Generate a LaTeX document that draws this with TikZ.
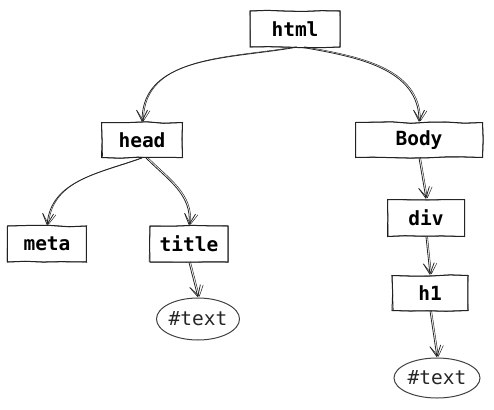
\documentclass[tikz,border=0pt]{standalone}
\usepackage{fontspec}
\setmonofont{DejaVu Sans Mono}
\usetikzlibrary{arrows.meta,shapes.geometric,decorations.pathmorphing}

\tikzset{
  sketch/.style={draw=black!90, line width=1pt,
    decorate, decoration={random steps, segment length=18pt, amplitude=0.8pt},
    postaction={draw=black!85, line width=0.6pt, decorate,
      decoration={random steps, segment length=25pt, amplitude=1pt}}},
  tagbox/.style={sketch, rectangle, inner sep=0pt,
    font=\ttfamily\bfseries\fontsize{19.5}{21}\selectfont},
  textnode/.style={draw=black!75, line width=1pt, ellipse, inner sep=0pt,
    text=black!85, font=\ttfamily\fontsize{19.5}{21}\selectfont},
  link/.style={draw=black!85, line width=0.8pt, -{Straight Barb[length=11pt,width=11pt]},
    postaction={draw=black!85, line width=0.5pt, -{Straight Barb[length=10pt,width=13pt]},
      transform canvas={xshift=1.5pt,yshift=0.8pt}}}
}

\begin{document}
\begin{tikzpicture}[x=1pt, y=-1pt]
  \useasboundingbox (0,0) rectangle (494,409);

  % Root
  \node[tagbox, minimum width=90pt, minimum height=36pt] (html) at (295,29) {html};

  % Head branch
  \node[tagbox, minimum width=81pt, minimum height=35pt] (head) at (142,140) {head};
  \node[tagbox, minimum width=79pt, minimum height=36pt] (meta) at (47,244) {meta};
  \node[tagbox, minimum width=78pt, minimum height=36pt] (title) at (189,244) {title};
  \node[textnode, minimum width=83pt, minimum height=42pt] (text1) at (198,319) {\#text};

  % Body branch
  \node[tagbox, minimum width=127pt, minimum height=35pt] (body) at (419,140) {Body};
  \node[tagbox, minimum width=77pt, minimum height=37pt] (div) at (426,218) {div};
  \node[tagbox, minimum width=76pt, minimum height=35pt] (h1) at (430,293) {h1};
  \node[textnode, minimum width=86pt, minimum height=40pt] (text2) at (437,378) {\#text};

  % Links
  \draw[link] (html.south) to[out=190, in=90] (head.north);
  \draw[link] (html.south) ++(8,0) to[out=-10, in=90] (body.north);
  \draw[link] (head.south) to[out=200, in=85] (meta.north);
  \draw[link] (head.south) ++(4,0) to[out=-45, in=85] (title.north);
  \draw[link] (title.south) -- (text1.north);
  \draw[link] (body.south) -- (div.north);
  \draw[link] (div.south) -- (h1.north);
  \draw[link] (h1.south) -- (text2.north);
\end{tikzpicture}
\end{document}
